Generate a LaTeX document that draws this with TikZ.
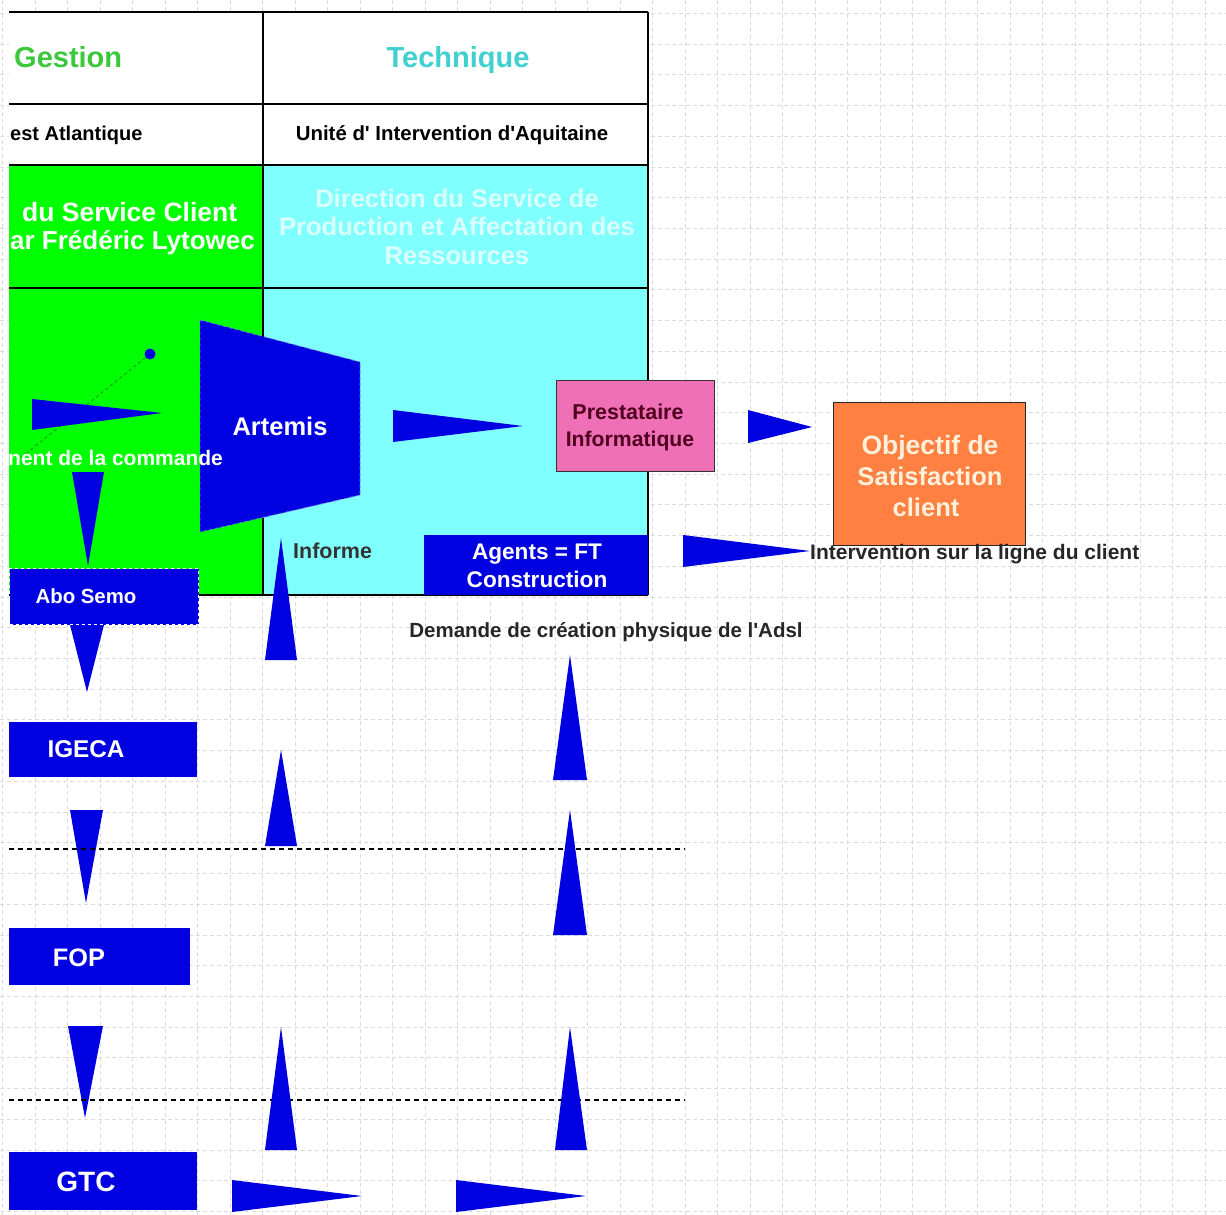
\documentclass[tikz,border=0pt]{standalone}
\usepackage{fontspec}
\setmainfont{Liberation Sans}[Ligatures=TeXOff]
\newcommand\sz[2]{\fontsize{#1}{#2}\selectfont\bfseries}
\definecolor{fblue}{RGB}{0,0,225}
\definecolor{fgreen}{RGB}{0,255,0}
\definecolor{fcyan}{RGB}{128,255,255}
\definecolor{fpink}{RGB}{240,112,184}
\definecolor{forange}{RGB}{255,128,64}
\definecolor{gesttext}{RGB}{60,200,60}
\definecolor{techtext}{RGB}{64,208,208}
\definecolor{prestext}{RGB}{80,0,30}
\definecolor{objtext}{RGB}{255,240,220}
\definecolor{pale}{RGB}{218,255,255}
\definecolor{linkgreen}{RGB}{0,140,0}
\begin{document}
\begin{tikzpicture}[x=1pt,y=-1pt,
  gridline/.style={draw=black!14, line width=0.8pt, dash pattern=on 4pt off 3pt},
  rule/.style={line width=2.6pt, black},
  wedge/.style={fill=fblue},
  txt/.style={inner sep=0pt, anchor=base},
  txtw/.style={inner sep=0pt, anchor=base west},
  bluebox/.style={fill=fblue, inner sep=0pt, anchor=north west},
  sep/.style={line width=1.5pt, black, dash pattern=on 5pt off 4pt}
]
\useasboundingbox (0,0) rectangle (1226,1215);
\fill[white] (0,0) rectangle (1226,1215);

% background grid
\foreach \k in {-21,...,16} \draw[gridline] ({685+32.5*\k},0) -- ++(0,1215);
\foreach \k in {0,...,39} \draw[gridline] (0,{13.3+30.72*\k}) -- ++(1226,0);

% table cells
\fill[white] (9,12) rectangle (648,165);
\fill[fgreen] (9,165) rectangle (263,595);
\fill[fcyan] (263,165) rectangle (648,595);
\draw[rule] (9,12) -- (648,12);
\draw[rule] (9,104) -- (648,104);
\draw[rule] (9,165) -- (648,165);
\draw[rule] (9,288) -- (648,288);
\draw[line width=1.5pt] (9,595) -- (648,595);
\draw[rule] (263,12) -- (263,595);
\draw[rule] (648,12) -- (648,165);
\draw[line width=1.5pt] (648,165) -- (648,595);

% table texts
\node[txtw, text=gesttext, font=\sz{29}{34}] (gestion) at (14,67.5) {Gestion};
\node[txt, text=techtext, font=\sz{29}{34}] (technique) at (458,67.5) {Technique};
\node[txtw, font=\sz{20}{24}] (ouest) at (10,140) {est Atlantique};
\node[txt, font=\sz{20.4}{24}] (unite) at (452,140) {Unité d' Intervention d'Aquitaine};
\node[txtw, text=white, font=\sz{26.5}{30}] (dsc1) at (22,221) {du Service Client};
\node[txtw, text=white, font=\sz{26}{30}] (dsc2) at (10,249) {ar Frédéric Lytowec};
\node[txt, text=pale, font=\sz{25.5}{30}] (dir1) at (457,207) {Direction du Service de};
\node[txt, text=pale, font=\sz{25.5}{30}] (dir2) at (457,235) {Production et Affectation des};
\node[txt, text=pale, font=\sz{25.5}{30}] (dir3) at (457,264) {Ressources};

% order handling
\draw[dashed, linkgreen, line width=0.8pt] (150,354) -- (18,460);
\fill[fblue] (150,354) circle (5.5);
\fill[wedge] (32,399) -- (32,430) -- (162,413) -- cycle;

% Artemis
\filldraw[fill=fblue, draw=fblue!55, dashed, line width=0.8pt] (200,320) -- (360,362) -- (360,495) -- (200,532) -- cycle;
\node[txt, text=white, font=\sz{25.5}{30}] (artemis) at (280,435) {Artemis};
\node[txtw, text=white, font=\sz{21}{25}] (commande) at (8,465.5) {nent de la commande};

% boxes on the left
\node[bluebox, draw=white, dashed, line width=1.2pt, minimum width=189, minimum height=56] (abo) at (9,568) {};
\node[txt, text=white, font=\sz{20.4}{24}] (abot) at (86,603) {Abo Semo};
\node[bluebox, minimum width=188, minimum height=55] (igeca) at (9,722) {};
\node[txt, text=white, font=\sz{24.3}{28}] (igecat) at (86,757.7) {IGECA};
\node[bluebox, minimum width=181, minimum height=57] (fop) at (9,928) {};
\node[txt, text=white, font=\sz{25.3}{29}] (fopt) at (79,966) {FOP};
\node[bluebox, minimum width=188, minimum height=58] (gtc) at (9,1152) {};
\node[txt, text=white, font=\sz{28}{32}] (gtct) at (86,1191) {GTC};

% down arrows along the left column
\fill[wedge] (72,472) -- (104,472) -- (88,566) -- cycle;
\fill[wedge] (70,625) -- (104,625) -- (87,692) -- cycle;
\fill[wedge] (70,810) -- (103,810) -- (86,903) -- cycle;
\fill[wedge] (68,1026) -- (103,1026) -- (85,1118) -- cycle;

% dashed separators
\draw[sep] (9,849) -- (685,849);
\draw[sep] (9,1100) -- (685,1100);

% up arrows
\fill[wedge] (265,660) -- (297,660) -- (281,538) -- cycle;
\fill[wedge] (265,846) -- (297,846) -- (281,750) -- cycle;
\fill[wedge] (265,1150) -- (297,1150) -- (281,1027) -- cycle;
\fill[wedge] (553,780) -- (587,780) -- (570,655) -- cycle;
\fill[wedge] (553,935) -- (587,935) -- (570,810) -- cycle;
\fill[wedge] (555,1150) -- (587,1150) -- (570,1027) -- cycle;

% bottom arrows
\fill[wedge] (232,1180) -- (232,1212) -- (362,1196) -- cycle;
\fill[wedge] (456,1180) -- (456,1212) -- (586,1196) -- cycle;

% technical side
\node[txtw, text=black!80, font=\sz{21.5}{25}] (informe) at (293,558.7) {Informe};
\node[bluebox, minimum width=224, minimum height=60] (agents) at (424,535) {};
\node[txt, text=white, font=\sz{22.6}{27}] (agents1) at (537,559) {Agents = FT};
\node[txt, text=white, font=\sz{22.6}{27}] (agents2) at (537,587) {Construction};

\fill[wedge] (393,410) -- (393,442) -- (523,426) -- cycle;
\node[draw=black!80, fill=fpink, line width=1.2pt, inner sep=0pt, anchor=north west, minimum width=158, minimum height=91] (presta) at (556,380) {};
\node[txt, text=prestext, font=\sz{21.5}{26}] (presta1) at (628,419.7) {Prestataire};
\node[txt, text=prestext, font=\sz{21.2}{26}] (presta2) at (630,446.7) {Informatique};

\fill[wedge] (748,410) -- (748,443) -- (812,427) -- cycle;
\node[draw=black!85, fill=forange, line width=1.2pt, inner sep=0pt, anchor=north west, minimum width=192, minimum height=143] (objectif) at (833,402) {};
\node[txt, text=objtext, font=\sz{26.5}{31}] (obj1) at (930,454.3) {Objectif de};
\node[txt, text=objtext, font=\sz{25.6}{31}] (obj2) at (930,485.3) {Satisfaction};
\node[txt, text=objtext, font=\sz{25.6}{31}] (obj3) at (926,516.3) {client};

\fill[wedge] (683,535) -- (683,567) -- (810,551) -- cycle;
\node[txtw, text=black!85, font=\sz{21}{25}] (intervention) at (810,559.5) {Intervention sur la ligne du client};
\node[txt, text=black!85, font=\sz{20.5}{24}] (demande) at (606,637.3) {Demande de création physique de l'Adsl};
\end{tikzpicture}
\end{document}
